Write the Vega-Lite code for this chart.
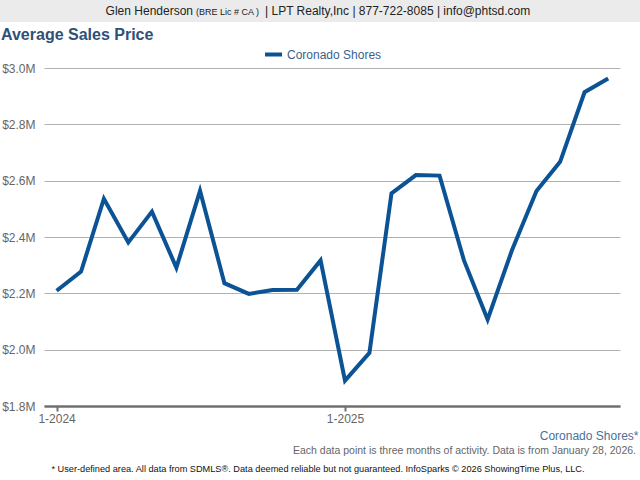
{
  "$schema": "https://vega.github.io/schema/vega-lite/v6.json",
  "padding": 0,
  "spacing": 5,
  "background": "white",
  "resolve": {"legend": {"color": "independent"}, "scale": {"color": "independent"}},
  "config": {
    "view": {"stroke": null},
    "font": "Liberation Sans",
    "text": {"font": "Liberation Sans"},
    "axis": {"labelFont": "Liberation Sans", "titleFont": "Liberation Sans"},
    "legend": {"labelFont": "Liberation Sans", "titleFont": "Liberation Sans"}
  },
  "vconcat": [
    {
      "width": 640,
      "height": 22,
      "view": {"fill": "#ebebeb", "stroke": null},
      "data": {"values": [{"a": "Glen Henderson", "b": "(BRE Lic # CA )", "c": "| LPT Realty,Inc | 877-722-8085 | info@phtsd.com"}]},
      "layer": [
        {"mark": {"type": "text", "align": "right", "baseline": "alphabetic", "dx": -127, "dy": 4, "fontSize": 12, "color": "#222222"}, "encoding": {"text": {"field": "a"}}},
        {"mark": {"type": "text", "align": "left", "baseline": "alphabetic", "dx": -124, "dy": 4, "fontSize": 9, "color": "#222222"}, "encoding": {"text": {"field": "b"}}},
        {"mark": {"type": "text", "align": "left", "baseline": "alphabetic", "dx": -55, "dy": 4, "fontSize": 12, "color": "#222222"}, "encoding": {"text": {"field": "c"}}}
      ]
    },
    {
      "width": 640,
      "height": 338,
      "title": {"text": "Average Sales Price", "anchor": "start", "frame": "bounds", "fontSize": 16, "fontWeight": "bold", "color": "#2f5079", "font": "Liberation Sans", "offset": 1, "dx": 1},
      "data": {"values": [
        {"month": "2024-01-01", "price": 2209000, "area": "Coronado Shores"},
        {"month": "2024-02-01", "price": 2277000, "area": "Coronado Shores"},
        {"month": "2024-03-01", "price": 2536000, "area": "Coronado Shores"},
        {"month": "2024-04-01", "price": 2381000, "area": "Coronado Shores"},
        {"month": "2024-05-01", "price": 2490000, "area": "Coronado Shores"},
        {"month": "2024-06-01", "price": 2291000, "area": "Coronado Shores"},
        {"month": "2024-07-01", "price": 2564000, "area": "Coronado Shores"},
        {"month": "2024-08-01", "price": 2236000, "area": "Coronado Shores"},
        {"month": "2024-09-01", "price": 2198000, "area": "Coronado Shores"},
        {"month": "2024-10-01", "price": 2212000, "area": "Coronado Shores"},
        {"month": "2024-11-01", "price": 2213000, "area": "Coronado Shores"},
        {"month": "2024-12-01", "price": 2317000, "area": "Coronado Shores"},
        {"month": "2025-01-01", "price": 1890000, "area": "Coronado Shores"},
        {"month": "2025-02-01", "price": 1989000, "area": "Coronado Shores"},
        {"month": "2025-03-01", "price": 2555000, "area": "Coronado Shores"},
        {"month": "2025-04-01", "price": 2620000, "area": "Coronado Shores"},
        {"month": "2025-05-01", "price": 2618000, "area": "Coronado Shores"},
        {"month": "2025-06-01", "price": 2317000, "area": "Coronado Shores"},
        {"month": "2025-07-01", "price": 2107000, "area": "Coronado Shores"},
        {"month": "2025-08-01", "price": 2354000, "area": "Coronado Shores"},
        {"month": "2025-09-01", "price": 2563000, "area": "Coronado Shores"},
        {"month": "2025-10-01", "price": 2667000, "area": "Coronado Shores"},
        {"month": "2025-11-01", "price": 2914000, "area": "Coronado Shores"},
        {"month": "2025-12-01", "price": 2963000, "area": "Coronado Shores"}
      ]},
      "mark": {"type": "line", "strokeWidth": 4},
      "encoding": {
        "x": {
          "field": "month",
          "type": "temporal",
          "scale": {"type": "utc", "range": [44, 620], "domain": [{"year": 2023, "month": 12, "date": 16, "utc": true}, {"year": 2025, "month": 12, "date": 16, "utc": true}]},
          "axis": {
            "values": [1704067200000, 1735689600000],
            "labelExpr": "utcFormat(datum.value, '%-m-%Y')",
            "labelFlush": false,
            "grid": false,
            "domainColor": "#707070",
            "domainWidth": 2.5,
            "tickColor": "#707070",
            "tickWidth": 2,
            "tickSize": 5,
            "labelPadding": 2,
            "labelFontSize": 12,
            "labelColor": "#666666",
            "title": "Coronado Shores*",
            "titleColor": "#4a6f9c",
            "titleFontSize": 12,
            "titleFontWeight": "normal",
            "titleAlign": "right",
            "titleX": 638,
            "titleY": 33,
            "titleBaseline": "alphabetic"
          }
        },
        "y": {
          "field": "price",
          "type": "quantitative",
          "scale": {"domain": [1800000, 3000000], "nice": false, "zero": false},
          "axis": {
            "values": [1800000, 2000000, 2200000, 2400000, 2600000, 2800000, 3000000],
            "labelExpr": "'$' + format(datum.value / 1000000, '.1f') + 'M'",
            "domain": false,
            "ticks": false,
            "grid": true,
            "gridColor": "#b3b3b3",
            "gridWidth": 1,
            "labelPadding": -35,
            "labelFontSize": 12,
            "labelColor": "#666666",
            "title": null,
            "minExtent": 0,
            "maxExtent": 0
          }
        },
        "color": {
          "field": "area",
          "type": "nominal",
          "scale": {"range": ["#0b5394"]},
          "legend": {
            "orient": "none",
            "legendX": 263,
            "legendY": -24,
            "title": null,
            "direction": "horizontal",
            "symbolType": "stroke",
            "symbolSize": 289,
            "symbolStrokeWidth": 4,
            "labelFontSize": 12,
            "labelColor": "#3b5f8c",
            "labelOffset": 3,
            "padding": 0
          }
        }
      }
    },
    {
      "width": 640,
      "height": 30,
      "data": {"values": [{"a": "Each data point is three months of activity. Data is from January 28, 2026.", "b": "* User-defined area. All data from SDMLS®. Data deemed reliable but not guaranteed. InfoSparks © 2026 ShowingTime Plus, LLC."}]},
      "layer": [
        {"mark": {"type": "text", "align": "right", "baseline": "alphabetic", "dx": 316, "dy": -8, "fontSize": 10.5, "color": "#666666"}, "encoding": {"text": {"field": "a"}}},
        {"mark": {"type": "text", "align": "center", "baseline": "alphabetic", "dx": -2, "dy": 10, "fontSize": 9.2, "color": "#111111"}, "encoding": {"text": {"field": "b"}}}
      ]
    }
  ]
}
